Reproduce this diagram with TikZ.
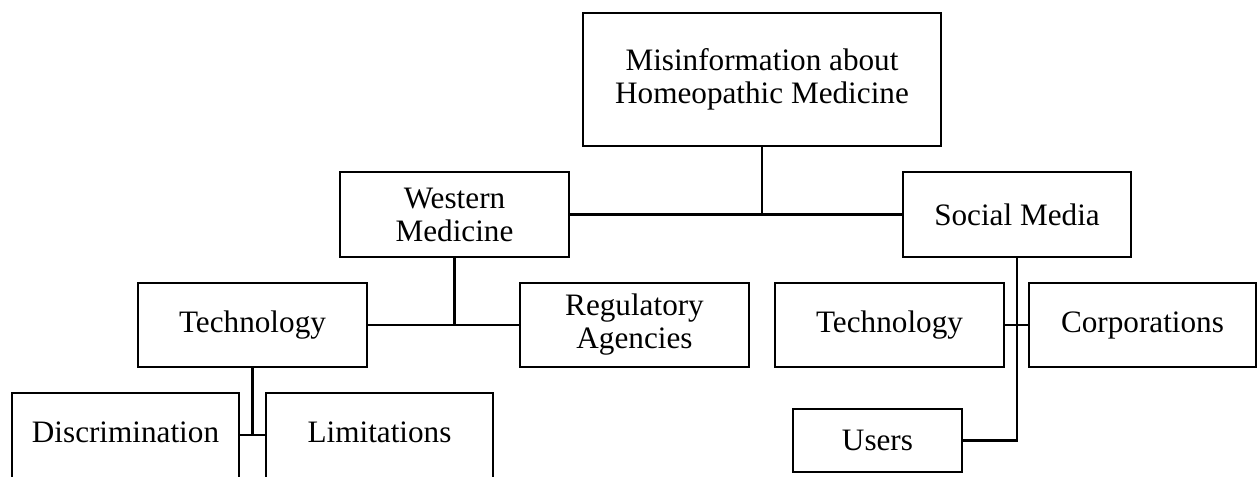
\documentclass[tikz,border=0pt]{standalone}
\usepackage{fontspec}
\setmainfont{Liberation Serif}
\begin{document}
\begin{tikzpicture}[x=0.75pt,y=-0.75pt,
  box/.style={draw=black,line width=1.7pt,fill=white,inner sep=0pt,align=center,
    font=\fontsize{23.4}{24.75}\selectfont,text=black},
  cutbox/.style={box,text height=16pt,text depth=24pt},
  conn/.style={draw=black,line width=1.7pt}]
\useasboundingbox (0,0) rectangle (1257,476);
\clip (0,0) rectangle (1257,476);
\node[box,minimum width=358*0.75pt,minimum height=133*0.75pt] (top) at (762,79.5) {Misinformation about\\Homeopathic Medicine};
\node[box,minimum width=229*0.75pt,minimum height=85*0.75pt] (wm) at (454.5,214.5) {Western\\Medicine};
\node[box,minimum width=228*0.75pt,minimum height=85*0.75pt] (sm) at (1017,214.5) {Social Media};
\node[box,minimum width=229*0.75pt,minimum height=84*0.75pt] (techL) at (252.5,325) {Technology};
\node[box,minimum width=229*0.75pt,minimum height=84*0.75pt] (reg) at (634.5,325) {Regulatory\\Agencies};
\node[box,minimum width=229*0.75pt,minimum height=84*0.75pt] (techR) at (889.5,325) {Technology};
\node[box,minimum width=227*0.75pt,minimum height=84*0.75pt] (corp) at (1142.5,325) {Corporations};
\node[box,minimum width=169*0.75pt,minimum height=63*0.75pt] (users) at (877.5,440.5) {Users};
\node[cutbox,minimum width=227*0.75pt,minimum height=110*0.75pt] (disc) at (125.5,448) {Discrimination};
\node[cutbox,minimum width=227*0.75pt,minimum height=110*0.75pt] (lim) at (379.5,448) {Limitations};
\coordinate (j) at (253,435);
\draw[conn] (top.south) -- (top.south |- wm.east);
\draw[conn] (wm.east) -- (sm.west);
\draw[conn] (wm.south) -- (wm.south |- techL.east);
\draw[conn] (techL.east) -- (reg.west);
\draw[conn] (sm.south) -- (sm.south |- users.east) -- (users.east);
\draw[conn] (techR.east) -- (corp.west);
\draw[conn] (techL.south) -- (techL.south |- j);
\draw[conn] (disc.east |- j) -- (lim.west |- j);
\end{tikzpicture}
\end{document}
